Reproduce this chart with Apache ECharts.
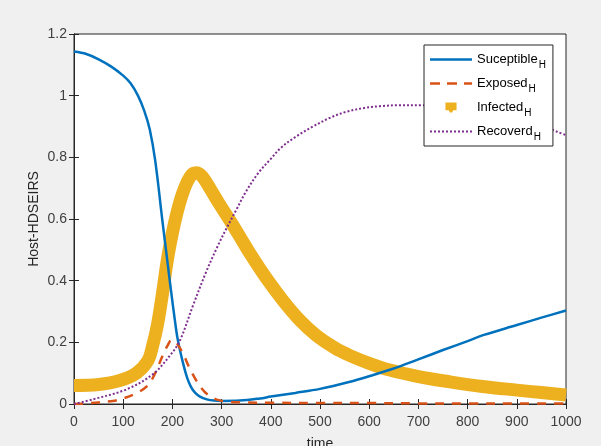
<!DOCTYPE html>
<html>
<head>
<meta charset="utf-8">
<script src="https://cdn.jsdelivr.net/npm/echarts@6/dist/echarts.min.js"></script>
<style>
html,body{margin:0;padding:0;background:#f0f0f0;}
#chart{width:601px;height:446px;}
</style>
</head>
<body>
<div id="chart"></div>
<script>
// ---- data ----
var seriesNames = ['Suceptible', 'Exposed', 'Infected', 'Recoverd'];
var xTicks = [0, 100, 200, 300, 400, 500, 600, 700, 800, 900, 1000];
var yTicks = [0, 0.2, 0.4, 0.6, 0.8, 1, 1.2];

var suscT = [0, 25, 50, 75, 100, 115, 130, 143, 154, 165, 180, 190, 197, 205, 211, 222, 230, 238, 246, 256, 270, 285, 300, 337, 378, 400, 450, 500, 561, 600, 650, 697, 750, 800, 833, 900, 950, 1000];
var suscV = [1.143, 1.135, 1.118, 1.095, 1.065, 1.04, 1.0, 0.95, 0.89, 0.79, 0.59, 0.46, 0.37, 0.272, 0.208, 0.13, 0.085, 0.055, 0.037, 0.024, 0.015, 0.011, 0.01, 0.011, 0.018, 0.024, 0.036, 0.049, 0.072, 0.09, 0.115, 0.143, 0.175, 0.204, 0.224, 0.256, 0.28, 0.303];

var expT = [0, 25, 50, 79, 100, 127, 150, 165, 181, 191, 198, 205, 212, 222, 235, 252, 265, 276, 290, 310, 350, 400, 500, 600, 700, 800, 900, 1000];
var expV = [0, 0.002, 0.005, 0.01, 0.018, 0.035, 0.06, 0.1, 0.16, 0.192, 0.207, 0.205, 0.19, 0.162, 0.116, 0.067, 0.04, 0.026, 0.014, 0.008, 0.005, 0.004, 0.003, 0.003, 0.002, 0.002, 0.002, 0.002];

var infT = [0, 50, 93, 127, 150, 160, 170, 180, 190, 200, 210, 220, 230, 240, 250, 262, 276, 295, 317, 340, 357, 390, 425, 460, 493, 530, 561, 600, 642, 700, 764, 830, 900, 950, 1000];
var infV = [0.06, 0.063, 0.076, 0.1, 0.14, 0.19, 0.26, 0.36, 0.47, 0.555, 0.625, 0.68, 0.72, 0.745, 0.75, 0.735, 0.7, 0.65, 0.595, 0.535, 0.49, 0.41, 0.335, 0.27, 0.222, 0.182, 0.157, 0.132, 0.11, 0.089, 0.072, 0.057, 0.045, 0.037, 0.029];

var recT = [0, 38, 106, 160, 194, 215, 242, 269, 290, 310, 330, 350, 375, 400, 420, 450, 486, 520, 554, 590, 622, 660, 707, 750, 800, 850, 900, 950, 982, 1000];
var recV = [0, 0.015, 0.047, 0.096, 0.155, 0.205, 0.32, 0.43, 0.505, 0.57, 0.63, 0.69, 0.75, 0.795, 0.83, 0.866, 0.9, 0.928, 0.948, 0.96, 0.966, 0.969, 0.969, 0.965, 0.955, 0.942, 0.925, 0.903, 0.883, 0.872];

function pairs(t, v) { return t.map(function (x, i) { return [x, v[i]]; }); }

var C = { s: '#0072BD', e: '#D95319', i: '#EDB120', r: '#7E2F8E' };
var axisColor = '#262626';
var font = '"Liberation Sans", Arial, sans-serif';

// legend icon shapes (line samples)
var iconSolid = 'path://M0,0 H42 V2.5 H0 Z';
var iconDash = 'path://M0,0 H10 V2.6 H0 Z M17,0 H27 V2.6 H17 Z M34,0 H42 V2.6 H34 Z';
var dotParts = [];
for (var k = 0; k < 11; k++) { var x0 = k * 4; dotParts.push('M' + x0 + ',0 H' + (x0 + 2) + ' V2 H' + x0 + ' Z'); }
var iconDot = 'path://' + dotParts.join(' ');
var iconSquare = 'path://M0,0 L10,0 L10,7 L7,7 L6,9 L4,9 L3,7 L0,7 Z';

var chart = echarts.init(document.getElementById('chart'), null, { renderer: 'canvas' });

var baseX = {
  type: 'value', min: 0, max: 1000, interval: 100,
  axisLine: { show: true, lineStyle: { color: axisColor, width: 1 } },
  axisTick: { show: true, inside: true, length: 5, lineStyle: { color: axisColor } },
  splitLine: { show: false }
};
var baseY = {
  type: 'value', min: 0, max: 1.2, interval: 0.2,
  axisLine: { show: true, lineStyle: { color: axisColor, width: 1 } },
  axisTick: { show: true, inside: true, length: 5, lineStyle: { color: axisColor } },
  splitLine: { show: false }
};

chart.setOption({
  backgroundColor: '#f0f0f0',
  animation: false,
  textStyle: { fontFamily: font },
  grid: { left: 74, right: 35, top: 34, bottom: 42, containLabel: false, outerBoundsMode: 'none',
    show: true, backgroundColor: '#ffffff', borderColor: axisColor, borderWidth: 1 },
  xAxis: [
    Object.assign({}, baseX, {
      position: 'bottom',
      name: 'time', nameLocation: 'middle', nameGap: 33, nameMoveOverlap: false,
      nameTextStyle: { fontSize: 14, color: '#262626', fontFamily: font },
      axisLabel: { show: true, margin: 11, fontSize: 14, color: '#404040', fontFamily: font,
        formatter: function (v) { return xTicks.indexOf(v) >= 0 ? String(v) : ''; } }
    }),
    Object.assign({}, baseX, { position: 'top', axisLabel: { show: false } })
  ],
  yAxis: [
    Object.assign({}, baseY, {
      position: 'left',
      name: 'Host-HDSEIRS', nameLocation: 'middle', nameGap: 33, nameRotate: 90, nameMoveOverlap: false,
      nameTextStyle: { fontSize: 14, color: '#262626', fontFamily: font },
      axisLabel: { show: true, margin: 7, fontSize: 14, color: '#404040', fontFamily: font,
        formatter: function (v) {
          var r = Math.round(v * 10) / 10;
          return yTicks.indexOf(r) >= 0 ? String(r) : '';
        } }
    }),
    Object.assign({}, baseY, { position: 'right', axisLabel: { show: false } })
  ],
  legend: {
    orient: 'vertical',
    left: 424, top: 45,
    padding: [8, 7, 4, 6],
    itemGap: 7,
    itemWidth: 42, itemHeight: 10,
    backgroundColor: '#ffffff',
    borderColor: axisColor, borderWidth: 1, borderRadius: 0,
    data: [
      { name: seriesNames[0], icon: iconSolid, itemStyle: { color: C.s } },
      { name: seriesNames[1], icon: iconDash, itemStyle: { color: C.e } },
      { name: seriesNames[2], icon: iconSquare, itemStyle: { color: C.i } },
      { name: seriesNames[3], icon: iconDot, itemStyle: { color: C.r } }
    ],
    formatter: function (n) { return '{a|' + n + '}{b|H}'; },
    textStyle: {
      color: '#000',
      rich: {
        a: { fontSize: 13, fontFamily: font, color: '#000' },
        b: { fontSize: 10, fontFamily: font, color: '#000', padding: [11, 0, 0, 1] }
      }
    }
  },
  series: [
    { name: seriesNames[2], type: 'line', data: pairs(infT, infV), symbol: 'none', smooth: 0.35, z: 1, clip: false,
      lineStyle: { color: C.i, width: 13, cap: 'butt', join: 'round' }, itemStyle: { color: C.i } },
    { name: seriesNames[0], type: 'line', data: pairs(suscT, suscV), symbol: 'none', smooth: 0.35, z: 3,
      lineStyle: { color: C.s, width: 2.5 }, itemStyle: { color: C.s } },
    { name: seriesNames[1], type: 'line', data: pairs(expT, expV), symbol: 'none', smooth: 0.35, z: 3,
      lineStyle: { color: C.e, width: 2.5, type: [9, 8] }, itemStyle: { color: C.e } },
    { name: seriesNames[3], type: 'line', data: pairs(recT, recV), symbol: 'none', smooth: 0.35, z: 3,
      lineStyle: { color: C.r, width: 2, type: [2, 2] }, itemStyle: { color: C.r } }
  ]
});
</script>
</body>
</html>
